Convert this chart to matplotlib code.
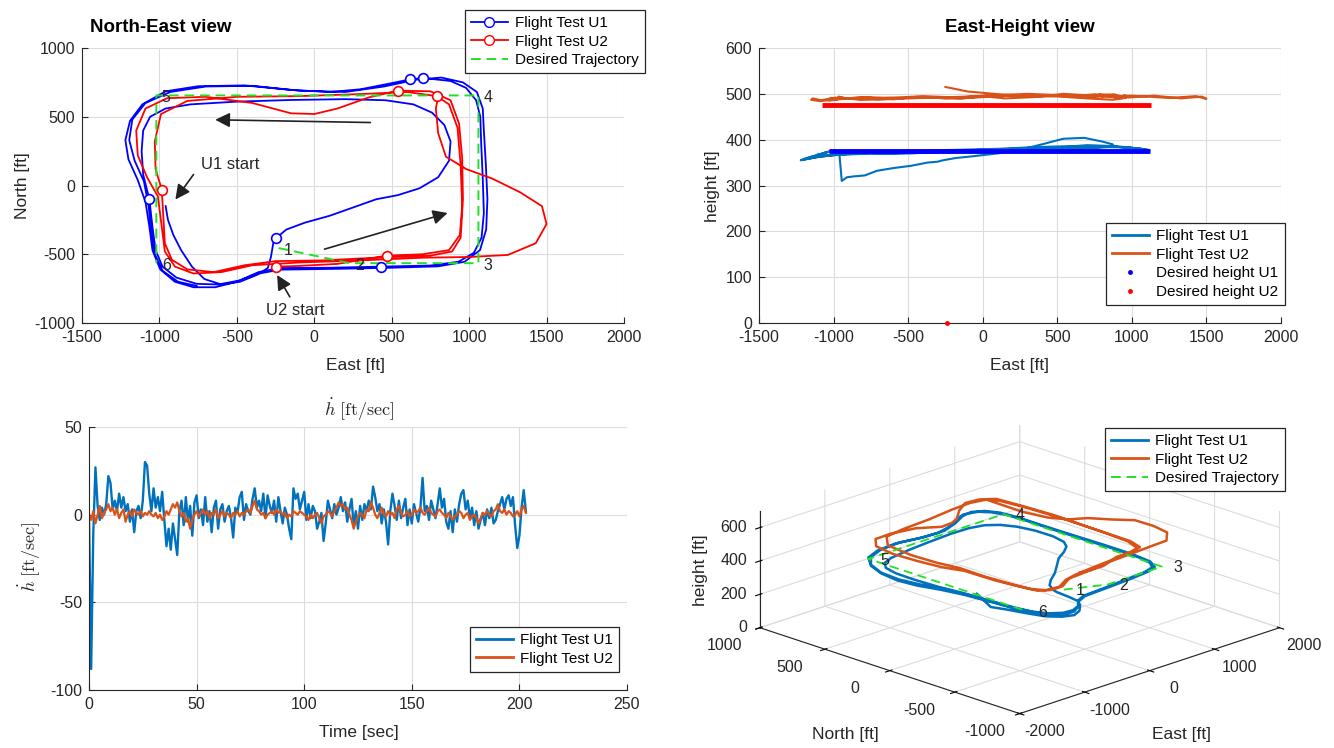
import numpy as np
import matplotlib.pyplot as plt
from matplotlib.lines import Line2D

plt.rcParams['font.family'] = ['Liberation Sans', 'DejaVu Sans']
plt.rcParams['mathtext.fontset'] = 'cm'
plt.rcParams['axes.unicode_minus'] = False
plt.rcParams['grid.color'] = '#dcdcdc'
plt.rcParams['grid.linewidth'] = 0.8

# ---- flight test U1 (east / north / height, ft) ----
u1_east = [-960, -945, -910, -860, -790, -710, -600, -480, -370, -300,
           -280, -265, -250, -180, -60, 100, 250, 400, 540, 680,
           800, 870, 880, 840, 760, 640, 460, 200, -150, -500,
           -800, -960, -1060, -1105, -1115, -1105, -1065, -1045, -1025, -980,
           -890, -760, -620, -480, -360, -220, 100, 430, 750, 930,
           1030, 1080, 1095, 1088, 1078, 1072, 1045, 980, 880, 700,
           620, 480, 300, 100, -150, -450, -750, -960, -1110, -1190,
           -1220, -1200, -1140, -1090, -1065, -1045, -995, -900, -780, -640,
           -500, -380, -220, 150, 500, 800, 970, 1070, 1110, 1118,
           1108, 1095, 1088, 1050, 960, 820, 660, 450, 200, -100,
           -400, -700, -930, -1090, -1175, -1195, -1160, -1100, -1070, -1050,
           -1030, -980, -880, -760]
u1_north = [-150, -250, -360, -470, -590, -680, -720, -700, -650, -600,
            -520, -420, -385, -320, -270, -220, -160, -100, -70, -20,
            60, 180, 320, 440, 530, 590, 620, 628, 622, 610,
            590, 560, 500, 400, 250, 80, -100, -300, -470, -590,
            -670, -715, -720, -690, -630, -600, -598, -590, -582, -555,
            -490, -380, -200, 50, 300, 500, 620, 710, 760, 782,
            772, 740, 700, 680, 695, 728, 722, 685, 590, 470,
            330, 190, 40, -120, -300, -470, -610, -700, -740, -740,
            -700, -645, -612, -606, -598, -588, -555, -470, -320, -100,
            150, 400, 560, 680, 750, 785, 770, 720, 680, 690,
            725, 720, 680, 600, 480, 330, 180, 30, -150, -350,
            -500, -620, -700, -730]
u1_height = [365, 310, 318, 320, 322, 332, 338, 343, 350, 352,
             354, 355, 356, 360, 364, 370, 378, 390, 402, 404,
             396, 390, 386, 384, 382, 380, 378, 376, 373, 371,
             369, 367, 366, 365, 366, 368, 370, 372, 374, 374,
             373, 371, 370, 370, 372, 374, 378, 382, 385, 384,
             381, 379, 378, 376, 377, 379, 381, 383, 386, 388,
             386, 385, 383, 380, 378, 376, 372, 368, 362, 357,
             355, 358, 364, 368, 371, 373, 374, 373, 371, 370,
             371, 373, 375, 378, 380, 384, 383, 380, 378, 376,
             375, 376, 378, 380, 383, 386, 385, 383, 380, 377,
             375, 372, 368, 363, 358, 357, 361, 366, 370, 373,
             374, 375, 374, 372]
u1_mark_east = [-1065, -250, 430, 620, 700]
u1_mark_north = [-100, -385, -590, 772, 782]

# ---- flight test U2 ----
u2_east = [-250, -100, 150, 470, 700, 870, 940, 955, 945, 925,
           870, 790, 600, 300, -100, -500, -820, -990, -1030, -1025,
           -985, -975, -965, -920, -820, -650, -450, -250, 50, 400,
           750, 890, 945, 960, 955, 935, 880, 750, 540, 350,
           150, 0, -150, -400, -700, -950, -1090, -1150, -1140, -1080,
           -1010, -985, -965, -900, -780, -600, -400, -100, 300, 700,
           1000, 1250, 1430, 1500, 1470, 1330, 1150, 980, 850, 800,
           785, 800]
u2_north = [-590, -585, -570, -510, -500, -470, -360, -150, 150, 420,
            590, 650, 680, 665, 650, 645, 615, 520, 320, 120,
            -30, -220, -420, -540, -610, -630, -580, -550, -545, -525,
            -510, -480, -380, -100, 200, 450, 620, 685, 690, 640,
            560, 520, 525, 600, 645, 635, 560, 400, 220, 60,
            -80, -300, -480, -590, -640, -630, -580, -560, -545, -525,
            -520, -505, -420, -280, -150, -50, 50, 120, 210, 380,
            560, 650]
u2_height = [515, 505, 498, 495, 490, 487, 490, 493, 496, 494,
             497, 499, 496, 500, 494, 490, 493, 487, 485, 489,
             492, 488, 493, 490, 487, 491, 494, 490, 497, 494,
             498, 492, 495, 491, 497, 494, 499, 496, 500, 493,
             490, 495, 489, 493, 487, 490, 484, 487, 490, 486,
             491, 488, 494, 489, 492, 488, 495, 491, 498, 493,
             496, 491, 495, 489, 494, 490, 496, 492, 497, 494,
             499, 496]
u2_mark_east = [-985, -250, 470, 540, 790]
u2_mark_north = [-30, -590, -510, 690, 650]

# ---- desired trajectory waypoints ----
des_east = [-230, 230, 1060, 1060, -1020, -1020]
des_north = [-455, -565, -565, 655, 655, -565]
des_height = [375, 375, 375, 375, 375, 375]
des_labels = ['1', '2', '3', '4', '5', '6']

# desired heights seen from the side
des_h_u1_east = [-1030, 1120]
des_h_u1 = [375, 375]
des_h_u2_east = [-1080, 1125]
des_h_u2 = [475, 475]
u2_init_east = [-240]
u2_init_h = [0]

# ---- climb rate, one sample per second ----
hdot_u1 = [0, -88, -10, 27, 5, -3, 4, 0, 6, 22,
           18, 3, 8, 2, 12, 4, 10, 2, 6, -4,
           3, -10, 2, 5, -2, 8, 30, 28, 12, 2,
           15, 4, 10, 2, 13, -3, -18, -8, -20, -5,
           -14, -23, 2, 8, -6, 10, -4, 5, -12, 7,
           11, -2, 3, -6, 10, -4, 2, -10, 4, 8,
           -8, 3, 6, -4, 2, 5, -2, -13, 4, 1,
           10, 13, -3, 6, 2, 0, 9, 15, 4, 8,
           2, 12, -2, 11, 5, 1, 8, -4, 10, 2,
           -5, 4, 0, -8, -14, 15, 9, 12, 3, 8,
           13, -3, 6, -2, 5, 2, -8, -4, 1, -15,
           -5, 8, 3, -2, 6, 0, 4, 10, 2, 7,
           -4, 3, 9, -6, 2, -8, 5, -3, 6, 2,
           8, 3, 16, 10, 2, 6, -5, 3, -4, -17,
           2, 12, 5, -3, 8, -2, 4, 9, -6, 3,
           -5, 6, 1, -4, 4, 21, 2, 5, -3, 8,
           3, -2, 6, 15, 4, 9, -4, -8, 2, -10,
           3, -4, 6, 12, 14, 3, 8, -2, 4, -6,
           2, -8, -3, 1, -6, 3, -2, 4, -5, -3,
           2, 6, 10, 3, 9, 11, 5, 10, -6, -19,
           -12, 4, 14, 2]
hdot_u2 = [0, -3, 2, -5, 0, 5, -2, 1, 3, 6,
           2, 4, 0, 3, -2, 1, 3, -4, 0, 2,
           -1, 3, 1, 0, 2, -1, 1, 0, 2, 0,
           -1, 1, -2, 0, -3, -1, 2, 0, 3, 6,
           4, 7, 2, -1, 1, -4, -2, -8, -3, 0,
           2, -1, 1, 3, 0, 2, -2, 1, 0, 3,
           -2, 0, 2, -1, 1, 0, -2, 1, 0, 2,
           -1, 1, 0, 2, 3, 1, 5, 8, 3, 2,
           0, 1, -2, 0, 1, 2, 0, 3, 1, 2,
           0, 1, -2, 0, -1, 2, 1, 0, 2, 1,
           0, -1, -3, 0, -2, 0, 1, -2, -5, -1,
           0, 2, 1, -1, 2, 4, 7, 5, 6, 3,
           4, 0, -3, -8, -4, -1, 1, 0, -2, 3,
           2, 7, 4, 0, -2, 1, 4, 0, -1, 2,
           0, 1, -2, 3, 5, 1, -1, 0, 2, -1,
           0, 3, 1, 2, 4, 1, 0, 2, 4, 1,
           0, -1, 2, 3, 1, 0, -2, 1, -1, -3,
           -1, 0, 2, 1, -2, 0, 1, -3, -1, 0,
           -2, -5, -2, 1, 0, 2, 0, -1, 2, 3,
           6, 2, 1, 3, 0, 2, 1, -1, 0, 2,
           -1, 3, 5, 1]
hdot_time = np.arange(len(hdot_u1))

# 3-D axis ticks
east_ticks_3d = [-2000, -1000, 0, 1000, 2000]
north_ticks_3d = [-1000, -500, 0, 500, 1000]
height_ticks_3d = [0, 200, 400, 600]

C_U1 = '#0072BD'
C_U2 = '#D95319'
C_DES = '#22e022'
INK = '#262626'

W, H = 1334, 748
fig = plt.figure(figsize=(W / 100, H / 100), dpi=100)


def px_axes(x0, y0, x1, y1, **kw):
    return fig.add_axes([x0 / W, 1 - y1 / H, (x1 - x0) / W, (y1 - y0) / H], **kw)


def fx(x):
    return x / W


def fy(y):
    return 1 - y / H


def matlab_look(ax):
    ax.grid(True)
    ax.set_axisbelow(True)
    for side in ('top', 'right'):
        ax.spines[side].set_visible(False)
    for side in ('left', 'bottom'):
        ax.spines[side].set_color(INK)
        ax.spines[side].set_linewidth(0.8)
    ax.tick_params(direction='in', length=4, width=0.8, colors=INK,
                   labelsize=11.5, pad=5)


def boxed_legend(ax, handles, labels, x, y):
    leg = ax.legend(handles, labels, loc='upper left', bbox_to_anchor=(fx(x), fy(y)),
                    bbox_transform=fig.transFigure, fontsize=11, fancybox=False,
                    edgecolor=INK, framealpha=1, borderaxespad=0, borderpad=0.4,
                    handlelength=2.4, labelspacing=0.3, handletextpad=0.5)
    leg.get_frame().set_linewidth(0.9)
    return leg


# ---------------- North-East view ----------------
ax1 = px_axes(82, 48, 624, 323)
ax1.plot(u1_east, u1_north, color='b', lw=1.3)
ax1.plot(u2_east, u2_north, color='r', lw=1.3)
ax1.plot(des_east, des_north, '--', color=C_DES, lw=1.4, dashes=(5, 3))
ax1.plot(u1_mark_east, u1_mark_north, 'o', mfc='white', mec='b', ms=7, mew=1.2)
ax1.plot(u2_mark_east, u2_mark_north, 'o', mfc='white', mec='r', ms=7, mew=1.2)
for e, n, lab in zip(des_east, des_north, des_labels):
    ax1.text(e + 35, n - 15, lab, fontsize=11.5, va='center', ha='left', color=INK)

arrow = dict(arrowstyle='-|>', color='#222222', lw=1.2, mutation_scale=22,
             shrinkA=0, shrinkB=0)
ax1.annotate('', xy=(-640, 478), xytext=(362, 458), arrowprops=arrow)
ax1.annotate('', xy=(861, -200), xytext=(66, -463), arrowprops=arrow)
ax1.annotate('', xy=(-897, -102), xytext=(-780, 80), arrowprops=arrow)
ax1.annotate('', xy=(-240, -651), xytext=(-158, -810), arrowprops=arrow)
ax1.text(-733, 154, 'U1 start', fontsize=12, va='center', ha='left', color=INK)
ax1.text(-314, -907, 'U2 start', fontsize=12, va='center', ha='left', color=INK)

ax1.set_xlim(-1500, 2000)
ax1.set_ylim(-1000, 1000)
ax1.set_xticks(np.arange(-1500, 2001, 500))
ax1.set_yticks(np.arange(-1000, 1001, 500))
matlab_look(ax1)
boxed_legend(ax1,
             [Line2D([], [], color='b', lw=1.3, marker='o', mfc='white', mec='b', ms=7),
              Line2D([], [], color='r', lw=1.3, marker='o', mfc='white', mec='r', ms=7),
              Line2D([], [], color=C_DES, lw=1.4, ls='--', dashes=(5, 3))],
             ['Flight Test U1', 'Flight Test U2', 'Desired Trajectory'], 465, 10)
fig.text(fx(90), fy(27), 'North-East view', fontsize=13.5, fontweight='bold',
         ha='left', va='center', color='black')
fig.text(fx(355), fy(366), 'East [ft]', fontsize=12.5, ha='center', va='center', color=INK)
fig.text(fx(22), fy(186), 'North [ft]', fontsize=12.5, ha='center', va='center',
         rotation=90, color=INK)

# ---------------- East-Height view ----------------
ax2 = px_axes(759, 48, 1281, 323)
ax2.plot(u1_east, u1_height, color=C_U1, lw=1.5)
ax2.plot(u2_east, u2_height, color=C_U2, lw=1.5)
ax2.plot(des_h_u1_east, des_h_u1, color='b', lw=3.5, solid_capstyle='butt')
ax2.plot(des_h_u2_east, des_h_u2, color='r', lw=3.5, solid_capstyle='butt')
ax2.plot(u2_init_east, u2_init_h, '.', color='r', ms=5, clip_on=False, zorder=5)
ax2.set_xlim(-1500, 2000)
ax2.set_ylim(0, 600)
ax2.set_xticks(np.arange(-1500, 2001, 500))
ax2.set_yticks(np.arange(0, 601, 100))
matlab_look(ax2)
boxed_legend(ax2,
             [Line2D([], [], color=C_U1, lw=2),
              Line2D([], [], color=C_U2, lw=2),
              Line2D([], [], color='b', ls='none', marker='.', ms=5),
              Line2D([], [], color='r', ls='none', marker='.', ms=5)],
             ['Flight Test U1', 'Flight Test U2', 'Desired height U1', 'Desired height U2'],
             1106, 223)
fig.text(fx(1020), fy(27), 'East-Height view', fontsize=13.5, fontweight='bold',
         ha='center', va='center', color='black')
fig.text(fx(1020), fy(366), 'East [ft]', fontsize=12.5, ha='center', va='center', color=INK)
fig.text(fx(712), fy(186), 'height [ft]', fontsize=12.5, ha='center', va='center',
         rotation=90, color=INK)

# ---------------- climb rate ----------------
ax3 = px_axes(89, 427, 627, 690)
ax3.plot(hdot_time, hdot_u1, color=C_U1, lw=1.7)
ax3.plot(hdot_time, hdot_u2, color=C_U2, lw=1.6)
ax3.set_xlim(0, 250)
ax3.set_ylim(-100, 50)
ax3.set_xticks(np.arange(0, 251, 50))
ax3.set_yticks([-100, -50, 0, 50])
matlab_look(ax3)
boxed_legend(ax3,
             [Line2D([], [], color=C_U1, lw=2), Line2D([], [], color=C_U2, lw=2)],
             ['Flight Test U1', 'Flight Test U2'], 470, 627)
fig.text(fx(359), fy(410), r'$\dot{h}\ [\mathrm{ft/sec}]$', fontsize=13,
         ha='center', va='center', color=INK)
fig.text(fx(359), fy(732), 'Time [sec]', fontsize=12.5, ha='center', va='center', color=INK)
fig.text(fx(30), fy(557), r'$\dot{h}\ [\mathrm{ft/sec}]$', fontsize=13,
         ha='center', va='center', rotation=90, color=INK)

# ---------------- 3-D view ----------------
ax4 = px_axes(700, 400, 1330, 748, projection='3d')
ax4.set_proj_type('ortho')
ax4.view_init(elev=19.3, azim=-135)
ax4.plot(u1_east, u1_north, u1_height, color=C_U1, lw=1.8)
ax4.plot(u2_east, u2_north, u2_height, color=C_U2, lw=1.8)
ax4.plot(des_east, des_north, des_height, '--', color=C_DES, lw=1.3, dashes=(5, 3))
for e, n, z, lab in zip(des_east, des_north, des_height, des_labels):
    ax4.text(e + 60, n - 60, z, lab, fontsize=11.5, color=INK, va='center')
ax4.set_xlim(-2000, 2000)
ax4.set_ylim(-1000, 1000)
ax4.set_zlim(0, 700)
ax4.set_xticks(east_ticks_3d)
ax4.set_yticks(north_ticks_3d)
ax4.set_zticks(height_ticks_3d)
ax4.set_box_aspect((1, 1, 0.337), zoom=1.49)
for axis in (ax4.xaxis, ax4.yaxis, ax4.zaxis):
    axis.set_pane_color((1, 1, 1, 0))
    axis.pane.set_edgecolor('#dcdcdc')
    axis.line.set_color(INK)
    axis.line.set_linewidth(0.8)
    axis.label.set_visible(False)
    axis.offsetText.set_visible(False)
    axis.set_tick_params(labelbottom=False, labeltop=False)

# tick labels placed just outside the box edges, MATLAB style
for v in north_ticks_3d:
    ax4.text(-2540, v, -40, str(v), fontsize=11.5, color=INK, ha='center', va='center')
for v in east_ticks_3d:
    ax4.text(v, -1190, -60, str(v), fontsize=11.5, color=INK, ha='center', va='center')
for v in height_ticks_3d:
    ax4.text(-2100, 1050, v, str(v), fontsize=11.5, color=INK, ha='right', va='center')

boxed_legend(ax4,
             [Line2D([], [], color=C_U1, lw=2), Line2D([], [], color=C_U2, lw=2),
              Line2D([], [], color=C_DES, lw=1.4, ls='--', dashes=(5, 3))],
             ['Flight Test U1', 'Flight Test U2', 'Desired Trajectory'], 1105, 428)
fig.text(fx(845), fy(735), 'North [ft]', fontsize=12.5, ha='center', va='center', color=INK)
fig.text(fx(1182), fy(735), 'East [ft]', fontsize=12.5, ha='center', va='center', color=INK)
fig.text(fx(701), fy(570), 'height [ft]', fontsize=12.5, ha='center', va='center',
         rotation=90, color=INK)

fig.savefig('out.png', dpi=100)
